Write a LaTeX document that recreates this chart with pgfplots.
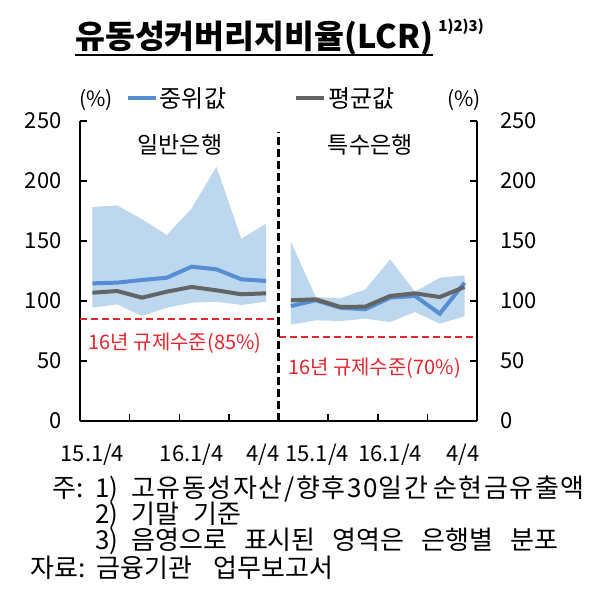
\documentclass[border=0pt]{standalone}
\usepackage{pgfplots}
\pgfplotsset{compat=1.18}
\usepackage{fontspec}
\setmainfont{Noto Sans CJK KR}
\definecolor{medblue}{RGB}{85,142,213}
\definecolor{shade}{RGB}{189,215,238}
\definecolor{meangray}{RGB}{100,100,100}
\definecolor{lcrred}{RGB}{228,38,45}
\begin{document}
\begin{tikzpicture}
\path[use as bounding box] (0pt,0pt) rectangle (600pt,595pt);
% title
\node[anchor=base west,inner sep=0pt,font=\fontsize{32.5}{36}\selectfont\bfseries] (T) at (75pt,546pt) {유동성커버리지비율(LCR)};
\draw[line width=1.5pt] ([yshift=-6pt]T.base west) -- ([yshift=-6pt]T.base east);
\node[anchor=base west,inner sep=0pt,font=\fontsize{15}{18}\selectfont\bfseries] at ([xshift=5pt,yshift=17pt]T.base east) {1)2)3)};
\begin{axis}[at={(80pt,174pt)}, anchor=origin, width=397pt, height=300pt, scale only axis,
  xmin=0, xmax=16, ymin=0, ymax=250, clip=false,
  axis x line=bottom, axis y line=left,
  axis line style={line width=2.5pt,-},
  tick align=inside, major tick length=7pt, minor tick length=7pt,
  ytick={0,50,...,250}, ytick style={line width=2pt,black},
  xtick={0.5,4.5,7.38,9.56,12.5,15.44},
  xticklabels={15.1/4,16.1/4,4/4,15.1/4,16.1/4,4/4},
  major x tick style={draw=none},
  minor xtick={2,4,6,8,10,12,14}, minor x tick style={line width=1.5pt,black},
  tick label style={font=\fontsize{22}{26}\selectfont},
  yticklabel style={xshift=-15pt},
  xticklabel style={yshift=-19pt},
  /pgf/number format/assume math mode=true,
  legend style={at={(axis description cs:0.115,1.075)}, anchor=west, draw=none, fill=none,
    legend columns=2, font=\fontsize{24}{26}\selectfont,
    /tikz/every even column/.append style={column sep=66pt},
    inner sep=0pt, row sep=0pt},
  legend image code/.code={\draw[#1,line width=4pt] (0pt,0pt) -- (28pt,0pt);},
]
% shaded ranges
\addplot[fill=shade, draw=none, forget plot] coordinates {
 (0.5,178.3) (1.5,179.7) (2.5,168.1) (3.5,155) (4.5,177.2) (5.5,211.9) (6.5,151.9) (7.5,164.4)
 (7.5,99.4) (6.5,96.7) (5.5,99.4) (4.5,98.6) (3.5,94.4) (2.5,87.5) (1.5,97.2) (0.5,94.4)} -- cycle;
\addplot[fill=shade, draw=none, forget plot] coordinates {
 (8.5,149.4) (9.5,103.3) (10.5,102.2) (11.5,109.7) (12.5,134.7) (13.5,107.8) (14.5,119.4) (15.5,121.4)
 (15.5,87.2) (14.5,81.1) (13.5,90.8) (12.5,82.5) (11.5,85.3) (10.5,83.3) (9.5,83.9) (8.5,80.3)} -- cycle;
% median / mean
\addplot[medblue, line width=4pt] coordinates {
 (0.5,114.7) (1.5,115.3) (2.5,117.5) (3.5,119.4) (4.5,128.6) (5.5,126.4) (6.5,118.1) (7.5,116.7)};
\addlegendentry{중위값}
\addplot[meangray, line width=4pt] coordinates {
 (0.5,106.9) (1.5,108.3) (2.5,102.8) (3.5,107.8) (4.5,111.7) (5.5,108.9) (6.5,105.6) (7.5,106.4)};
\addlegendentry{평균값}
\addplot[medblue, line width=4pt, forget plot] coordinates {
 (8.5,95.8) (9.5,100.6) (10.5,94.4) (11.5,93.1) (12.5,102.8) (13.5,104.2) (14.5,89.4) (15.5,115.3)};
\addplot[meangray, line width=4pt, forget plot] coordinates {
 (8.5,100.6) (9.5,101.4) (10.5,95) (11.5,95.3) (12.5,104.2) (13.5,106.4) (14.5,103.3) (15.5,111.7)};
% regulation levels
\addplot[lcrred, line width=2.5pt, dash pattern=on 7pt off 4pt, forget plot] coordinates {(0,85) (8,85)};
\addplot[lcrred, line width=2.5pt, dash pattern=on 7pt off 4pt, forget plot] coordinates {(8,70) (16,70)};
% divider
\addplot[black, line width=3pt, dash pattern=on 8pt off 4pt, forget plot] coordinates {(8,0) (8,241)};
% texts
\node[font=\fontsize{23}{26}\selectfont] at (axis cs:4.03,230) {일반은행};
\node[font=\fontsize{23}{26}\selectfont] at (axis cs:11.7,230) {특수은행};
\node[font=\fontsize{20}{22}\selectfont, text=lcrred] at (axis cs:3.83,65) {16년 규제수준(85\%)};
\node[font=\fontsize{20}{22}\selectfont, text=lcrred] at (axis cs:11.87,44) {16년 규제수준(70\%)};
\node[font=\fontsize{21}{24}\selectfont] at (axis description cs:0.04,1.07) {(\%)};
\node[font=\fontsize{21}{24}\selectfont] at (axis description cs:0.968,1.07) {(\%)};
\end{axis}
\begin{axis}[at={(80pt,174pt)}, anchor=origin, width=397pt, height=300pt, scale only axis,
  xmin=0, xmax=16, ymin=0, ymax=250,
  axis x line=none, axis y line=right,
  axis line style={line width=2.5pt,-},
  tick align=inside, major tick length=7pt,
  ytick={0,50,...,250}, ytick style={line width=2pt,black},
  tick label style={font=\fontsize{22}{26}\selectfont},
  yticklabel style={xshift=20pt},
  /pgf/number format/assume math mode=true,
]
\end{axis}
% notes
\begin{scope}[every node/.style={anchor=base west, inner sep=0pt, font=\fontsize{26}{28}\selectfont}]
\node at (52pt,98pt) {주:};
\node at (95pt,98pt) {1)\hspace{13pt}\addfontfeature{LetterSpace=6}고유동성자산/향후30일간\hspace{5pt}순현금유출액};
\node at (95pt,72pt) {2)\hspace{13pt}기말\hspace{14pt}기준};
\node at (95pt,46pt) {3)\hspace{13pt}음영으로\hspace{17pt}표시된\hspace{17pt}영역은\hspace{17pt}은행별\hspace{17pt}분포};
\node at (30pt,18pt) {자료:\hspace{11pt}금융기관\hspace{22pt}업무보고서};
\end{scope}
\end{tikzpicture}
\end{document}
